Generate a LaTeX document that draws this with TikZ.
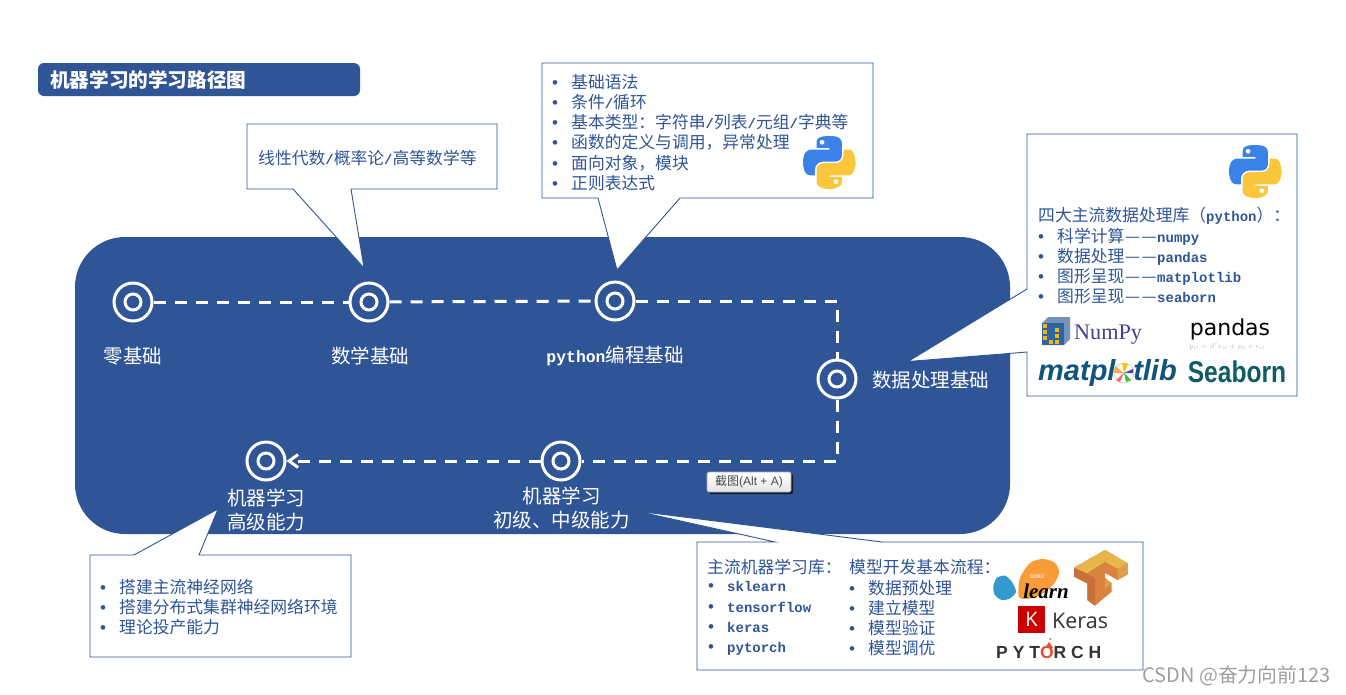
\documentclass[tikz,border=0pt]{standalone}
\usepackage{fontspec}
\setmainfont{Noto Sans CJK SC}
\newfontfamily\codefont{Liberation Mono}
\newfontfamily\helvfont{Liberation Sans}
\newfontfamily\timesfont{Liberation Serif}
\newfontfamily\dejavufont{DejaVu Sans}
\newfontfamily\kerasfont{Open Sans}
\newfontfamily\seabornfont[FakeStretch=0.82]{Liberation Sans}
\newfontfamily\torchfont[LetterSpace=28]{Liberation Sans}
\usetikzlibrary{arrows.meta,shadows,svg.path}

\newcommand{\code}[1]{{\codefont\bfseries\fontsize{14}{20.15}\selectfont #1}}
\newcommand{\bulletline}[1]{\makebox[19pt][l]{\helvfont\fontsize{17}{20.15}\selectfont •}#1}
\newcommand{\longdash}{\makebox[16.4pt][c]{—}\makebox[16.4pt][c]{—}}

\tikzset{
    panelshape/.style={fill=r47g85b151, rounded corners=50pt},
    titleshape/.style={fill=r47g85b151, rounded corners=6pt},
    calloutshape/.style={draw=r47g85b151, fill=white, line width=0.9pt, line join=miter},
    listtext/.style={text=r47g85b151, anchor=west, align=left, inner sep=0pt,
        font=\fontsize{16.8}{20.15}\selectfont},
    steplabel/.style={text=white, inner sep=0pt, align=center,
        font=\fontsize{19.5}{24}\selectfont},
    ringnode/.style={circle, draw=white, line width=3pt, minimum size=38pt, inner sep=0pt},
    ringcore/.style={circle, draw=white, line width=3pt, minimum size=16pt, inner sep=0pt},
    routeline/.style={draw=white, line width=3pt, dash pattern=on 12pt off 9pt},
    pythonlogo/.pic={
        \begin{scope}[xscale=0.473, yscale=-0.473, shift={(-55pt,-55pt)}]
        \fill [r59g130b232] svg {M 54.919 0.001 c -4.584 0.022 -8.961 0.413 -12.813 1.095 C 30.76 3.099 28.7 7.295 28.7 15.032 v 10.219 h 26.813 v 3.406 H 28.7 H 18.638 c -7.793 0 -14.616 4.684 -16.75 13.594 c -2.462 10.213 -2.571 16.586 0 27.25 c 1.906 7.938 6.458 13.594 14.25 13.594 h 9.219 v -12.25 c 0 -8.85 7.657 -16.656 16.75 -16.656 h 26.781 c 7.455 0 13.406 -6.138 13.406 -13.625 v -25.531 c 0 -7.266 -6.13 -12.725 -13.406 -13.937 C 64.282 0.328 59.502 -0.02 54.919 0.001 z};
        \fill [r249g198b60] svg {M 85.638 28.657 v 11.906 c 0 9.231 -7.826 17 -16.75 17 H 42.106 c -7.336 0 -13.406 6.278 -13.406 13.625 v 25.531 c 0 7.266 6.319 11.54 13.406 13.625 c 8.487 2.496 16.626 2.947 26.781 0 c 6.75 -1.954 13.406 -5.888 13.406 -13.625 V 86.5 H 55.513 v -3.406 h 26.781 h 13.406 c 7.793 0 10.696 -5.436 13.406 -13.594 c 2.799 -8.399 2.741 -16.476 0 -27.25 c -1.926 -7.757 -5.604 -13.594 -13.406 -13.594 H 85.638 z};
        \fill [white] (40.4pt,13.3pt) circle (5pt);
        \fill [white] (69.6pt,96.7pt) circle (5pt);
        \end{scope}
    }
}

\begin{document}
\begin{tikzpicture}[x=1pt, y=-1pt]
    \useasboundingbox (0,0) rectangle (1346,694);

    % Changing colors
    \definecolor{r47g85b151}{RGB}{47,85,151}%
    \definecolor{r59g130b232}{RGB}{59,130,232}%
    \definecolor{r249g198b60}{RGB}{249,198,60}%
    \definecolor{r17g85b124}{RGB}{17,85,124}%
    \definecolor{r13g92b102}{RGB}{13,92,102}%
    \definecolor{r238g76b44}{RGB}{238,76,44}%
    \definecolor{r249g156b56}{RGB}{249,156,56}%
    \definecolor{r52g153b205}{RGB}{52,153,205}%
    \definecolor{r232g181b74}{RGB}{232,181,74}%
    \definecolor{r217g131b63}{RGB}{217,131,63}%
    \definecolor{r201g111b56}{RGB}{201,111,56}%
    \definecolor{r219g160b74}{RGB}{219,160,74}%

    % Drawing panel
    \fill [panelshape] (75,237) rectangle (1010,534);

    % Drawing title bar
    \fill [titleshape] (38,63) rectangle (360,96);
    \draw (50,80) node [text=white, anchor=west, inner sep=0pt, font=\bfseries\fontsize{19.6}{24}\selectfont] (title) {机器学习的学习路径图};%

    % Drawing callout math
    \draw [calloutshape] (247,124) -- (497,124) -- (497,189) -- (351,189) -- (364,268) -- (293,189) -- (247,189) -- cycle;
    \draw (258,158) node [listtext] (mathtext) {线性代数\code{/}概率论\code{/}高等数学等};%

    % Drawing callout python
    \draw [calloutshape] (542,63) -- (873,63) -- (873,198) -- (680,198) -- (617,270) -- (598,198) -- (542,198) -- cycle;
    \draw (552,132.5) node [listtext] (pythontext) {\bulletline{基础语法}\\\bulletline{条件\code{/}循环}\\\bulletline{基本类型：字符串\code{/}列表\code{/}元组\code{/}字典等}\\\bulletline{函数的定义与调用，异常处理}\\\bulletline{面向对象，模块}\\\bulletline{正则表达式}};%
    \pic at (829,162) {pythonlogo};

    % Drawing callout data
    \draw [calloutshape] (1027,134) -- (1297,134) -- (1297,396) -- (1027,396) -- (1027,352) -- (908,361.5) -- (1027,289) -- cycle;
    \pic at (1255,171) {pythonlogo};
    \draw (1038,216) node [listtext] (datatitle) {四大主流数据处理库（\code{python}）：};%
    \draw (1038,266) node [listtext] (datatext) {\bulletline{科学计算\longdash\code{numpy}}\\\bulletline{数据处理\longdash\code{pandas}}\\\bulletline{图形呈现\longdash\code{matplotlib}}\\\bulletline{图形呈现\longdash\code{seaborn}}};%

    % Marking logo NumPy
    \fill [r47g85b151!65] (1042,323) -- (1048,317) -- (1070,317) -- (1070,339) -- (1064,345) -- (1042,345) -- cycle;
    \fill [r47g85b151!90!cyan] (1042,323) rectangle (1064,345);
    \fill [orange!60!yellow] (1043,324) rectangle (1047,328);
    \fill [orange!60!yellow] (1043,330) rectangle (1047,334);
    \fill [orange!60!yellow] (1043,336) rectangle (1047,340);
    \fill [orange!60!yellow] (1049,340) rectangle (1053,344);
    \fill [orange!60!yellow] (1055,340) rectangle (1059,344);
    \fill [orange!60!yellow] (1055,334) rectangle (1059,338);
    \fill [orange!60!yellow] (1055,328) rectangle (1059,332);
    \draw (1074,335) node [anchor=west, inner sep=0pt, text=blue!40!black!75, font=\timesfont\fontsize{22.2}{24}\selectfont] (numpytext) {NumPy};%

    % Marking logo pandas
    \draw (1230,329) node [inner sep=0pt, text=black, font=\dejavufont\fontsize{22}{24}\selectfont] (pandastext) {pandas};%
    \draw (1227,346) node [inner sep=0pt, text=gray!60, font=\fontsize{7}{8}\selectfont] (pandasformula) {$y_{it}=\beta' x_{it}+\mu_i+\epsilon_{it}$};%

    % Marking logo matplotlib
    \draw (1038,373) node [anchor=west, inner sep=0pt, text=r17g85b124, font=\helvfont\bfseries\itshape\fontsize{29}{30}\selectfont] (matplotlibtext) {matplotlib};%
    \fill [white] (1124,373) circle (10);
    \draw [gray!50, line width=0.5pt] (1124,373) circle (10);
    \fill [orange!70] (1124,373) -- (1115,366) -- (1114,373) -- cycle;
    \fill [orange!50!yellow] (1124,373) -- (1122,363) -- (1128,364) -- cycle;
    \fill [green!50!gray] (1124,373) -- (1131,380) -- (1126,382) -- cycle;
    \fill [red!60] (1124,373) -- (1116,380) -- (1120,382) -- cycle;
    \fill [blue!50!gray] (1124,373) -- (1133,369) -- (1133,373) -- cycle;

    % Marking logo Seaborn
    \draw (1237,372) node [inner sep=0pt, text=r13g92b102, font=\seabornfont\bfseries\fontsize{30}{32}\selectfont] (seaborntext) {Seaborn};%

    % Drawing callout machine learning
    \draw [calloutshape] (697,542) -- (775,542) -- (636,511) -- (882,542) -- (1143,542) -- (1143,670) -- (697,670) -- cycle;
    \draw (707,567) node [listtext] (libtitle) {主流机器学习库：};%
    \draw (708,618.5) node [listtext] (libtext) {\bulletline{\code{sklearn}}\\\bulletline{\code{tensorflow}}\\\bulletline{\code{keras}}\\\bulletline{\code{pytorch}}};%
    \draw (849,567) node [listtext] (flowtitle) {模型开发基本流程：};%
    \draw (849,618) node [listtext] (flowtext) {\bulletline{数据预处理}\\\bulletline{建立模型}\\\bulletline{模型验证}\\\bulletline{模型调优}};%

    % Marking logo scikit-learn
    \fill [r249g156b56] plot [smooth cycle] coordinates {(1018.3,593) (1020,578) (1030,563) (1043,559) (1055,563) (1059,573) (1053,585) (1040,595) (1027,599) (1020,598)};
    \fill [r52g153b205] plot [smooth cycle] coordinates {(993.3,586.7) (996.7,578) (1005,575.7) (1011.7,581.7) (1016,591.7) (1010,598.3) (1001.7,600) (995,595)};
    \draw (1037,576) node [inner sep=0pt, text=white, font=\helvfont\fontsize{6.5}{8}\selectfont] (scikittext) {scikit};%
    \draw (1046,591) node [inner sep=0pt, text=black, font=\timesfont\bfseries\itshape\fontsize{21}{24}\selectfont] (learntext) {learn};%

    % Marking logo TensorFlow
    \fill [r217g131b63] (1074,567.7) -- (1105,550) -- (1127.7,563.3) -- (1127.7,574.3) -- (1117.7,580) -- (1105,573) -- (1105,578) -- (1111.7,583.3) -- (1111.7,591.7) -- (1101.7,600) -- (1095,605.7) -- (1087.3,600) -- (1087.3,583.3) -- (1074,576.7) -- cycle;
    \fill [r232g181b74] (1074,567.7) -- (1105,550) -- (1127.7,563.3) -- (1117.7,569) -- (1105,561.7) -- (1086.7,573.3) -- cycle;
    \fill [r219g160b74] (1117.7,569) -- (1127.7,563.3) -- (1127.7,574.3) -- (1117.7,580) -- cycle;
    \fill [r219g160b74] (1105,578) -- (1111.7,583.3) -- (1105,588) -- cycle;
    \fill [r201g111b56] (1087.3,573.8) -- (1095,578) -- (1095,605.7) -- (1087.3,600) -- cycle;
    \fill [r201g111b56] (1074,567.7) -- (1087.3,573.8) -- (1087.3,583.3) -- (1074,576.7) -- cycle;

    % Marking logo Keras
    \fill [red!80!black] (1018,606) rectangle (1045,633);
    \draw (1031.5,619.5) node [inner sep=0pt, text=white, font=\kerasfont\fontsize{20}{22}\selectfont] (keraskey) {K};%
    \draw (1052,621) node [anchor=west, inner sep=0pt, text=black!80, font=\kerasfont\fontsize{21.5}{24}\selectfont] (kerastext) {Keras};%

    % Marking logo PyTorch
    \draw (996,652) node [anchor=west, inner sep=0pt, text=black!80, font=\torchfont\bfseries\fontsize{17.5}{20}\selectfont] (torchtext) {PYT\textcolor{r238g76b44}{O}RCH};%
    \fill [r238g76b44] (1045,648) -- (1049,642) -- (1053,648) -- cycle;
    \fill [violet!70] (1050,639) circle (1);

    % Drawing callout advanced
    \draw [calloutshape] (90,555) -- (134,555) -- (218,509) -- (199,555) -- (351,555) -- (351,657) -- (90,657) -- cycle;
    \draw (100,607) node [listtext] (advancedtext) {\bulletline{搭建主流神经网络}\\\bulletline{搭建分布式集群神经网络环境}\\\bulletline{理论投产能力}};%

    % Marking step nodes
    \draw (133,302) node [ringnode] (zero) {};%
    \draw (369,302) node [ringnode] (math) {};%
    \draw (615,301) node [ringnode] (python) {};%
    \draw (837,379) node [ringnode] (data) {};%
    \draw (561,461) node [ringnode] (primary) {};%
    \draw (266,461) node [ringnode] (advanced) {};%
    \draw (133,302) node [ringcore] (zerocore) {};%
    \draw (369,302) node [ringcore] (mathcore) {};%
    \draw (615,301) node [ringcore] (pythoncore) {};%
    \draw (837,379) node [ringcore] (datacore) {};%
    \draw (561,461) node [ringcore] (primarycore) {};%
    \draw (266,461) node [ringcore] (advancedcore) {};%

    % Drawing route
    \draw [routeline] (zero) -- (math);
    \draw [routeline] (math) -- (python);
    \draw [routeline] (python) -| (data);
    \draw [routeline] (data) |- (primary);
    \draw [routeline, -{Straight Barb[length=9pt, width=13pt]}] (primary) -- (advanced);

    % Marking step labels
    \draw (133,356) node [steplabel] (zerolabel) {零基础};%
    \draw (370,356) node [steplabel] (mathlabel) {数学基础};%
    \draw (615,356) node [steplabel] (pythonlabel) {{\codefont\bfseries\fontsize{16.4}{24}\selectfont python}编程基础};%
    \draw (872,380) node [steplabel, anchor=west] (datalabel) {数据处理基础};%
    \draw (266,510) node [steplabel] (advancedlabel) {机器学习\\高级能力};%
    \draw (561.5,508) node [steplabel] (primarylabel) {机器学习\\初级、中级能力};%

    % Marking tooltip
    \draw (749,482) node [rectangle, rounded corners=1.5pt, draw=gray!70, line width=0.6pt, top color=white, bottom color=blue!4!gray!20, minimum width=84pt, minimum height=20pt, inner sep=0pt, text=black!70, font=\fontsize{12}{14}\selectfont, drop shadow={shadow xshift=2pt, shadow yshift=-2pt, fill=black, opacity=0.7}] (tooltip) {截图{\helvfont(Alt + A)}};%

    % Marking watermark
    \draw (1331,676) node [anchor=east, inner sep=0pt, text=black!38, font=\fontsize{19.9}{22}\selectfont] (watermark) {CSDN @奋力向前123};%
\end{tikzpicture}
\end{document}
